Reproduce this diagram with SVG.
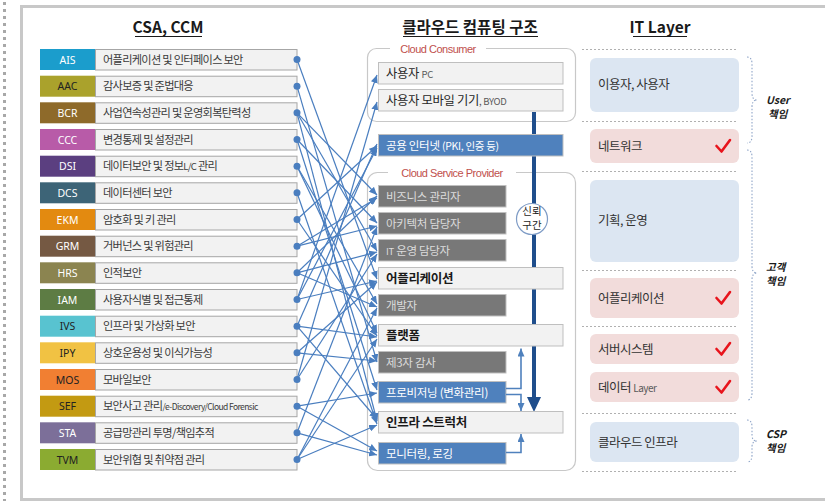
<svg xmlns="http://www.w3.org/2000/svg" width="825" height="501" viewBox="0 0 825 501">
<defs>
<marker id="ah" markerUnits="userSpaceOnUse" markerWidth="8" markerHeight="7" refX="8" refY="3.5" orient="auto">
<path d="M0,0 L8,3.5 L0,7 z" fill="#4a7ebf"/>
</marker>
<marker id="ahs" markerUnits="userSpaceOnUse" markerWidth="8" markerHeight="7" refX="8" refY="3.5" orient="auto">
<path d="M0,0 L8,3.5 L0,7 z" fill="#4f81bd"/>
</marker>
</defs>
<style>
.kr{font-family:"Noto Sans CJK KR","Noto Sans",sans-serif}
.title{font-family:"Noto Sans CJK KR","Noto Sans",sans-serif;font-size:15.5px;font-weight:bold;fill:#1a1a1a;text-anchor:middle}
.uline{stroke:#1a1a1a;stroke-width:1.2}
.code{font-family:"Noto Sans","Liberation Sans",sans-serif;font-size:10.5px;text-anchor:middle}
.lbl{fill:#f2f2f2;stroke:#a6a6a6;stroke-width:1}
.lt{font-family:"Noto Sans CJK KR","Noto Sans",sans-serif;font-size:11.2px;fill:#3a3a3a;letter-spacing:-0.7px}
.dot{fill:#4a7ebf}
.conn line{stroke:#4a7ebf;stroke-width:1.2;fill:none;marker-end:url(#ah)}
.grp{fill:none;stroke:#c8c8c8;stroke-width:1.2}
.glab{font-family:"Liberation Sans","Noto Sans",sans-serif;font-size:11px;fill:#c0504d;text-anchor:middle;letter-spacing:-0.5px}
.wbox{fill:#f2f2f2;stroke:#bfbfbf;stroke-width:1}
.gbox{fill:#787878;stroke:#bfbfbf;stroke-width:1}
.bbox{fill:#4f81bd;stroke:#bfbfbf;stroke-width:1}
.mt{font-family:"Noto Sans CJK KR","Noto Sans",sans-serif;font-size:12.3px;fill:#262626;letter-spacing:-0.3px}
.mb{font-family:"Noto Sans CJK KR","Noto Sans",sans-serif;font-size:12.5px;font-weight:bold;fill:#1a1a1a;letter-spacing:-0.3px}
.gt{font-family:"Noto Sans CJK KR","Noto Sans",sans-serif;font-size:11.5px;fill:#dcdcdc;letter-spacing:-0.3px}
.wt{font-family:"Noto Sans CJK KR","Noto Sans",sans-serif;font-size:11.5px;fill:#ffffff;letter-spacing:-0.3px}
.sm{font-size:9.5px}
.rb{fill:#dce6f2}
.rp{fill:#f2dcdb}
.rt{font-family:"Noto Sans CJK KR","Noto Sans",sans-serif;font-size:12.5px;fill:#333333;letter-spacing:-0.5px}
.dl{stroke:#b0b0b0;stroke-width:1;stroke-dasharray:2 2}
.chk{fill:none;stroke:#e8141c;stroke-width:2.6;stroke-linecap:round;stroke-linejoin:round}
.brace{fill:none;stroke:#8fa5c8;stroke-width:1.1;stroke-dasharray:1.5 1.8}
.bl{font-family:"Noto Sans CJK KR","Noto Sans",sans-serif;font-size:10.5px;font-weight:bold;font-style:italic;fill:#1a1a1a}
</style>

<!-- frame -->
<rect x="0" y="0" width="825" height="501" fill="#ffffff"/>
<rect x="21.5" y="6.5" width="830" height="493" fill="#ffffff" stroke="#c8c8c8" stroke-width="3"/>
<line x1="4.5" y1="2" x2="4.5" y2="501" stroke="#a8a8a8" stroke-width="3" stroke-dasharray="3 4"/>

<!-- titles -->
<text class="title" x="168" y="33">CSA, CCM</text>
<line class="uline" x1="135" y1="36.5" x2="202" y2="36.5"/>
<text class="title" x="470" y="33">클라우드 컴퓨팅 구조</text>
<line class="uline" x1="403" y1="36.5" x2="538" y2="36.5"/>
<text class="title" x="660" y="33">IT Layer</text>
<line class="uline" x1="633" y1="36.5" x2="687" y2="36.5"/>

<!-- left rows -->
<g id="AIS" transform="translate(0,49)"><rect x="40" y="0" width="55" height="21" fill="#1b9dcc"/><text class="code" x="67.5" y="14.5" fill="#ffffff">AIS</text><rect class="lbl" x="95.5" y="0.5" width="201.5" height="20.5"/><text class="lt" x="103" y="14.5">어플리케이션 및 인터페이스 보안</text><circle class="dot" cx="297" cy="10.5" r="3.5"/></g>
<g id="AAC" transform="translate(0,75.7)"><rect x="40" y="0" width="55" height="21" fill="#aaa22c"/><text class="code" x="67.5" y="14.5" fill="#222222">AAC</text><rect class="lbl" x="95.5" y="0.5" width="201.5" height="20.5"/><text class="lt" x="103" y="14.5">감사보증 및 준법대응</text><circle class="dot" cx="297" cy="10.5" r="3.5"/></g>
<g id="BCR" transform="translate(0,102.3)"><rect x="40" y="0" width="55" height="21" fill="#8e6a2a"/><text class="code" x="67.5" y="14.5" fill="#ffffff">BCR</text><rect class="lbl" x="95.5" y="0.5" width="201.5" height="20.5"/><text class="lt" x="103" y="14.5">사업연속성관리 및 운영회복탄력성</text><circle class="dot" cx="297" cy="10.5" r="3.5"/></g>
<g id="CCC" transform="translate(0,129)"><rect x="40" y="0" width="55" height="21" fill="#b85ba8"/><text class="code" x="67.5" y="14.5" fill="#ffffff">CCC</text><rect class="lbl" x="95.5" y="0.5" width="201.5" height="20.5"/><text class="lt" x="103" y="14.5">변경통제 및 설정관리</text><circle class="dot" cx="297" cy="10.5" r="3.5"/></g>
<g id="DSI" transform="translate(0,155.7)"><rect x="40" y="0" width="55" height="21" fill="#5b3f80"/><text class="code" x="67.5" y="14.5" fill="#ffffff">DSI</text><rect class="lbl" x="95.5" y="0.5" width="201.5" height="20.5"/><text class="lt" x="103" y="14.5">데이터보안 및 정보<tspan class="sm">L/C</tspan> 관리</text><circle class="dot" cx="297" cy="10.5" r="3.5"/></g>
<g id="DCS" transform="translate(0,182.3)"><rect x="40" y="0" width="55" height="21" fill="#3d6477"/><text class="code" x="67.5" y="14.5" fill="#ffffff">DCS</text><rect class="lbl" x="95.5" y="0.5" width="201.5" height="20.5"/><text class="lt" x="103" y="14.5">데이터센터 보안</text><circle class="dot" cx="297" cy="10.5" r="3.5"/></g>
<g id="EKM" transform="translate(0,209)"><rect x="40" y="0" width="55" height="21" fill="#e38a10"/><text class="code" x="67.5" y="14.5" fill="#ffffff">EKM</text><rect class="lbl" x="95.5" y="0.5" width="201.5" height="20.5"/><text class="lt" x="103" y="14.5">암호화 및 키 관리</text><circle class="dot" cx="297" cy="10.5" r="3.5"/></g>
<g id="GRM" transform="translate(0,235.7)"><rect x="40" y="0" width="55" height="21" fill="#755943"/><text class="code" x="67.5" y="14.5" fill="#ffffff">GRM</text><rect class="lbl" x="95.5" y="0.5" width="201.5" height="20.5"/><text class="lt" x="103" y="14.5">거버넌스 및 위험관리</text><circle class="dot" cx="297" cy="10.5" r="3.5"/></g>
<g id="HRS" transform="translate(0,262.3)"><rect x="40" y="0" width="55" height="21" fill="#8b8450"/><text class="code" x="67.5" y="14.5" fill="#ffffff">HRS</text><rect class="lbl" x="95.5" y="0.5" width="201.5" height="20.5"/><text class="lt" x="103" y="14.5">인적보안</text><circle class="dot" cx="297" cy="10.5" r="3.5"/></g>
<g id="IAM" transform="translate(0,289)"><rect x="40" y="0" width="55" height="21" fill="#5d7c44"/><text class="code" x="67.5" y="14.5" fill="#ffffff">IAM</text><rect class="lbl" x="95.5" y="0.5" width="201.5" height="20.5"/><text class="lt" x="103" y="14.5">사용자식별 및 접근통제</text><circle class="dot" cx="297" cy="10.5" r="3.5"/></g>
<g id="IVS" transform="translate(0,315.7)"><rect x="40" y="0" width="55" height="21" fill="#58c3d0"/><text class="code" x="67.5" y="14.5" fill="#222222">IVS</text><rect class="lbl" x="95.5" y="0.5" width="201.5" height="20.5"/><text class="lt" x="103" y="14.5">인프라 및 가상화 보안</text><circle class="dot" cx="297" cy="10.5" r="3.5"/></g>
<g id="IPY" transform="translate(0,342.3)"><rect x="40" y="0" width="55" height="21" fill="#f1c243"/><text class="code" x="67.5" y="14.5" fill="#222222">IPY</text><rect class="lbl" x="95.5" y="0.5" width="201.5" height="20.5"/><text class="lt" x="103" y="14.5">상호운용성 및 이식가능성</text><circle class="dot" cx="297" cy="10.5" r="3.5"/></g>
<g id="MOS" transform="translate(0,369)"><rect x="40" y="0" width="55" height="21" fill="#f17f32"/><text class="code" x="67.5" y="14.5" fill="#222222">MOS</text><rect class="lbl" x="95.5" y="0.5" width="201.5" height="20.5"/><text class="lt" x="103" y="14.5">모바일보안</text><circle class="dot" cx="297" cy="10.5" r="3.5"/></g>
<g id="SEF" transform="translate(0,395.7)"><rect x="40" y="0" width="55" height="21" fill="#c39a12"/><text class="code" x="67.5" y="14.5" fill="#222222">SEF</text><rect class="lbl" x="95.5" y="0.5" width="201.5" height="20.5"/><text class="lt" x="103" y="14.5">보안사고 관리<tspan font-size="8.5px" letter-spacing="-0.6px">/e-Discovery/Cloud Forensic</tspan></text><circle class="dot" cx="297" cy="10.5" r="3.5"/></g>
<g id="STA" transform="translate(0,422.3)"><rect x="40" y="0" width="55" height="21" fill="#7c6f99"/><text class="code" x="67.5" y="14.5" fill="#ffffff">STA</text><rect class="lbl" x="95.5" y="0.5" width="201.5" height="20.5"/><text class="lt" x="103" y="14.5">공급망관리 투명/책임추적</text><circle class="dot" cx="297" cy="10.5" r="3.5"/></g>
<g id="TVM" transform="translate(0,449)"><rect x="40" y="0" width="55" height="21" fill="#8bab31"/><text class="code" x="67.5" y="14.5" fill="#222222">TVM</text><rect class="lbl" x="95.5" y="0.5" width="201.5" height="20.5"/><text class="lt" x="103" y="14.5">보안위협 및 취약점 관리</text><circle class="dot" cx="297" cy="10.5" r="3.5"/></g>

<!-- middle groups -->
<g id="cloud-consumer">
<rect class="grp" x="367.5" y="48.5" width="208" height="73" rx="9"/>
<rect x="390" y="42" width="96" height="13" fill="#ffffff"/>
<text class="glab" x="438" y="52.5">Cloud Consumer</text>
</g>
<g id="cloud-service-provider">
<rect class="grp" x="367.5" y="172.5" width="208" height="298" rx="10"/>
<rect x="388" y="166" width="128" height="13" fill="#ffffff"/>
<text class="glab" x="452" y="176.5">Cloud Service Provider</text>
</g>

<!-- trust arrow -->
<g id="trust-arrow">
<line x1="534" y1="112" x2="534" y2="400" stroke="#1f4e8c" stroke-width="4"/>
<polygon points="527,397 541,397 534,412" fill="#1f4e8c"/>
</g>

<g id="user-pc"><rect class="wbox" x="378.5" y="62.5" width="184.5" height="21.5"/><text class="mt" x="386" y="77.5">사용자 <tspan class="sm" fill="#595959">PC</tspan></text></g>
<g id="user-mobile"><rect class="wbox" x="378.5" y="89.5" width="184.5" height="21.5"/><text class="mt" x="386" y="104.5">사용자 모바일 기기<tspan class="sm" fill="#595959">, BYOD</tspan></text></g>
<g id="public-internet"><rect class="bbox" x="378.5" y="134.5" width="184.5" height="21.5"/><text class="wt" x="386" y="149.5">공용 인터넷 <tspan font-size="10.5px">(PKI, 인증 등)</tspan></text></g>

<g id="trust-zone"><circle cx="532" cy="219" r="15.5" fill="#ffffff" stroke="#7f9cc6" stroke-width="1.2"/><text class="kr" x="532" y="215" font-size="10.5" fill="#262626" text-anchor="middle">신뢰</text><text class="kr" x="532" y="229" font-size="10.5" fill="#262626" text-anchor="middle">구간</text></g>

<g id="biz-manager"><rect class="gbox" x="378.5" y="185.5" width="127.5" height="21.5"/><text class="gt" x="386" y="200.5">비즈니스 관리자</text></g>
<g id="architect"><rect class="gbox" x="378.5" y="212.5" width="127.5" height="21.5"/><text class="gt" x="386" y="227.5">아키텍처 담당자</text></g>
<g id="it-ops"><rect class="gbox" x="378.5" y="239.5" width="127.5" height="21.5"/><text class="gt" x="386" y="254.5"><tspan class="sm">IT</tspan> 운영 담당자</text></g>
<g id="application"><rect class="wbox" x="378.5" y="267.5" width="184.5" height="21.5"/><text class="mb" x="386" y="283">어플리케이션</text></g>
<g id="developer"><rect class="gbox" x="378.5" y="294.5" width="127.5" height="21.5"/><text class="gt" x="386" y="309.5">개발자</text></g>
<g id="platform"><rect class="wbox" x="378.5" y="324.5" width="184.5" height="21.5"/><text class="mb" x="386" y="340">플랫폼</text></g>
<g id="third-party-audit"><rect class="gbox" x="378.5" y="351.5" width="127.5" height="21.5"/><text class="gt" x="386" y="366.5">제3자 감사</text></g>
<g id="provisioning"><rect class="bbox" x="378.5" y="381.5" width="127.5" height="21.5"/><text class="wt" x="386" y="396.5">프로비저닝 (변화관리)</text></g>
<g id="infrastructure"><rect class="wbox" x="378.5" y="411.5" width="184.5" height="21.5"/><text class="mb" x="386" y="427">인프라 스트럭처</text></g>
<g id="monitoring"><rect class="bbox" x="378.5" y="442.5" width="127.5" height="21.5"/><text class="wt" x="386" y="457.5">모니터링, 로깅</text></g>

<!-- small internal arrows -->
<g id="internal-connectors" fill="none" stroke="#4f81bd" stroke-width="1.6">
<polyline points="506,388.5 521,388.5 521,348.5" marker-end="url(#ahs)"/>
<polyline points="506,394.5 521,394.5 521,411" marker-end="url(#ahs)"/>
<polyline points="506,452.5 521,452.5 521,434" marker-end="url(#ahs)"/>
</g>

<!-- connectors -->
<g id="connectors" class="conn">
<line x1="297" y1="59.5" x2="377" y2="279"/>
<line x1="297" y1="86.2" x2="377" y2="362"/>
<line x1="297" y1="112.8" x2="377" y2="195"/>
<line x1="297" y1="112.8" x2="377" y2="251"/>
<line x1="297" y1="112.8" x2="377" y2="421"/>
<line x1="297" y1="139.5" x2="377" y2="223"/>
<line x1="297" y1="139.5" x2="377" y2="390"/>
<line x1="297" y1="166.2" x2="377" y2="304"/>
<line x1="297" y1="166.2" x2="377" y2="333"/>
<line x1="297" y1="192.8" x2="377" y2="424"/>
<line x1="297" y1="219.5" x2="377" y2="146"/>
<line x1="297" y1="219.5" x2="377" y2="336"/>
<line x1="297" y1="246.2" x2="377" y2="198"/>
<line x1="297" y1="246.2" x2="377" y2="226"/>
<line x1="297" y1="272.8" x2="377" y2="196"/>
<line x1="297" y1="272.8" x2="377" y2="252"/>
<line x1="297" y1="272.8" x2="377" y2="307"/>
<line x1="297" y1="299.5" x2="377" y2="75"/>
<line x1="297" y1="299.5" x2="377" y2="148"/>
<line x1="297" y1="299.5" x2="377" y2="281"/>
<line x1="297" y1="326.2" x2="377" y2="337"/>
<line x1="297" y1="326.2" x2="377" y2="419"/>
<line x1="297" y1="326.2" x2="377" y2="144"/>
<line x1="297" y1="352.8" x2="377" y2="361"/>
<line x1="297" y1="352.8" x2="377" y2="282"/>
<line x1="297" y1="379.5" x2="377" y2="102"/>
<line x1="297" y1="379.5" x2="377" y2="254"/>
<line x1="297" y1="406.2" x2="377" y2="393"/>
<line x1="297" y1="406.2" x2="377" y2="451"/>
<line x1="297" y1="432.8" x2="377" y2="227"/>
<line x1="297" y1="432.8" x2="377" y2="455"/>
<line x1="297" y1="459.5" x2="377" y2="339"/>
<line x1="297" y1="459.5" x2="377" y2="425"/>
<line x1="297" y1="459.5" x2="377" y2="308"/>
</g>

<!-- right column -->
<g id="it-layer-dividers">
<line class="dl" x1="582" y1="49.5" x2="736" y2="49.5"/>
<line class="dl" x1="582" y1="121.5" x2="736" y2="121.5"/>
<line class="dl" x1="582" y1="171.5" x2="736" y2="171.5"/>
<line class="dl" x1="582" y1="270.5" x2="736" y2="270.5"/>
<line class="dl" x1="582" y1="326.5" x2="736" y2="326.5"/>
<line class="dl" x1="582" y1="413.5" x2="736" y2="413.5"/>
<line class="dl" x1="582" y1="471.5" x2="736" y2="471.5"/>
</g>
<g id="layer-user"><rect class="rb" x="590" y="58" width="149" height="54" rx="6"/><text class="rt" x="598" y="89">이용자, 사용자</text></g>
<g id="layer-network"><rect class="rp" x="590" y="129" width="149" height="34" rx="6"/><text class="rt" x="598" y="150.5">네트워크</text><path class="chk" d="M716.5,146 L721.5,151.5 L730,140"/></g>
<g id="layer-plan"><rect class="rb" x="590" y="180" width="149" height="82" rx="6"/><text class="rt" x="598" y="225">기획, 운영</text></g>
<g id="layer-app"><rect class="rp" x="590" y="278" width="149" height="40" rx="6"/><text class="rt" x="598" y="302.5">어플리케이션</text><path class="chk" d="M716.5,298 L721.5,303.5 L730,292"/></g>
<g id="layer-server"><rect class="rp" x="590" y="334" width="149" height="30" rx="6"/><text class="rt" x="598" y="353.5">서버시스템</text><path class="chk" d="M716.5,349 L721.5,354.5 L730,343"/></g>
<g id="layer-data"><rect class="rp" x="590" y="372" width="149" height="30" rx="6"/><text class="rt" x="598" y="391.5">데이터 <tspan font-size="10px" fill="#595959">Layer</tspan></text><path class="chk" d="M716.5,387 L721.5,392.5 L730,381"/></g>
<g id="layer-infra"><rect class="rb" x="590" y="422" width="149" height="40" rx="6"/><text class="rt" x="598" y="446.5">클라우드 인프라</text></g>

<g id="brace-user"><path class="brace" d="M747,57 Q752,57 752,64 L752,93 Q752,100 757,100 Q752,100 752,107 L752,136 Q752,143 747,143"/><text class="bl" x="766" y="104">User</text><text class="bl" x="768" y="118">책임</text></g>
<g id="brace-customer"><path class="brace" d="M747,150 Q752,150 752,157 L752,266 Q752,273 757,273 Q752,273 752,280 L752,393 Q752,400 747,400"/><text class="bl" x="766" y="271">고객</text><text class="bl" x="766" y="285">책임</text></g>
<g id="brace-csp"><path class="brace" d="M747,420 Q752,420 752,427 L752,435 Q752,441 757,441 Q752,441 752,447 L752,455 Q752,462 747,462"/><text class="bl" x="766" y="438">CSP</text><text class="bl" x="766" y="452">책임</text></g>
</svg>
